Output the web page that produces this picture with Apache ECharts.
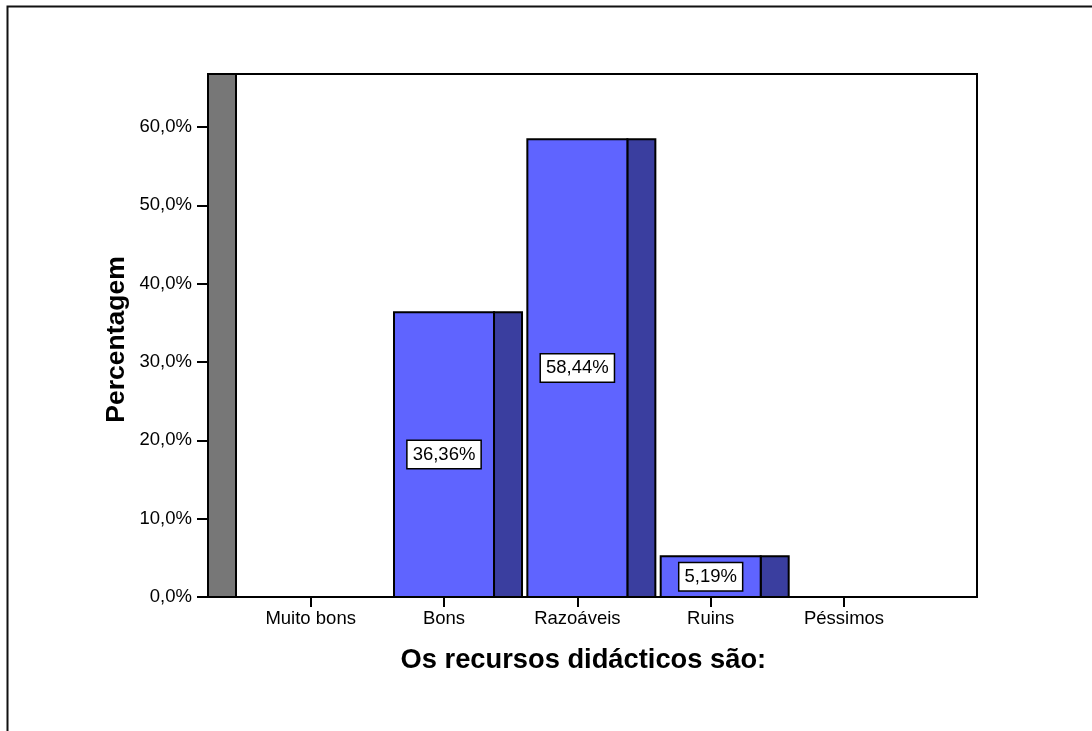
<!DOCTYPE html>
<html>
<head>
<meta charset="utf-8">
<script src="https://cdn.jsdelivr.net/npm/echarts@6/dist/echarts.min.js"></script>
<style>
  html, body { margin: 0; padding: 0; background: #fff; }
  #chart { width: 1092px; height: 731px; }
</style>
</head>
<body>
<div id="chart"></div>
<script>
// Categories and percentages of answers
const categories = ['Muito bons', 'Bons', 'Razoáveis', 'Ruins', 'Péssimos'];
const percentages = [0, 36.36, 58.44, 5.19, 0];
const yTicks = [0, 10, 20, 30, 40, 50, 60];
const yMax = 66.77;

const FONT = "'Liberation Sans', Arial, sans-serif";
const DEPTH = 28;          // width of the shaded side face (px)
const FRONT = '#5f64ff';
const SIDE = '#3a3e9f';
const WALL = '#777777';

const fmtPct = v => v.toFixed(2).replace('.', ',') + '%';
const fmtTick = v => v.toFixed(1).replace('.', ',') + '%';

const chart = echarts.init(document.getElementById('chart'), null, { renderer: 'canvas' });

const barData = categories.map((c, i) => [i, percentages[i]]).filter(d => d[1] > 0);

chart.setOption({
  backgroundColor: '#fff',
  animation: false,
  graphic: [{
    type: 'rect',
    shape: { x: 7.5, y: 6.5, width: 1200, height: 800 },
    style: { fill: 'none', stroke: '#111', lineWidth: 2 },
    silent: true
  }],
  grid: [
    { left: 208, top: 74, width: 769, height: 523, show: true, borderColor: '#000', borderWidth: 2, backgroundColor: 'transparent' },
    { left: 244, top: 74, width: 666.7, height: 523 }
  ],
  xAxis: [
    { type: 'value', gridIndex: 0, min: 0, max: 1, show: false },
    {
      type: 'category', gridIndex: 1, data: categories,
      axisLine: { show: false },
      axisTick: { show: true, alignWithLabel: true, length: 10, lineStyle: { color: '#000', width: 2 } },
      axisLabel: { color: '#000', fontFamily: FONT, fontSize: 18.5, margin: 12 },
      name: 'Os recursos didácticos são:',
      nameLocation: 'middle',
      nameGap: 50,
      nameMoveOverlap: false,
      nameTextStyle: { color: '#000', fontFamily: FONT, fontSize: 27.3, fontWeight: 'bold', padding: [0, 0, 0, 12] }
    }
  ],
  yAxis: [
    {
      type: 'value', gridIndex: 0, min: 0, max: yMax, interval: 10,
      splitLine: { show: false },
      axisLine: { show: false },
      axisTick: { show: true, length: 11, customValues: yTicks, lineStyle: { color: '#000', width: 2 } },
      axisLabel: { color: '#000', fontFamily: FONT, fontSize: 18.5, margin: 16, customValues: yTicks, formatter: fmtTick },
      name: 'Percentagem',
      nameLocation: 'middle',
      nameRotate: 90,
      nameGap: 78,
      nameMoveOverlap: false,
      nameTextStyle: { color: '#000', fontFamily: FONT, fontSize: 26.5, fontWeight: 'bold', align: 'center', verticalAlign: 'bottom', padding: [0, 8, 0, 0] }
    },
    { type: 'value', gridIndex: 1, min: 0, max: yMax, show: false }
  ],
  series: [
    {
      // back wall on the left of the plot
      type: 'custom', xAxisIndex: 0, yAxisIndex: 0,
      data: [[0, yMax]],
      renderItem: (params, api) => {
        const cs = params.coordSys;
        return {
          type: 'rect',
          shape: { x: cs.x, y: cs.y, width: DEPTH, height: cs.height },
          style: { fill: WALL, stroke: '#000', lineWidth: 2 }
        };
      }
    },
    {
      // 3D-look bars: front face plus shaded side face, value label in a box
      type: 'custom', xAxisIndex: 1, yAxisIndex: 1,
      data: barData,
      renderItem: (params, api) => {
        const idx = api.value(0), val = api.value(1);
        const top = api.coord([idx, val]);
        const base = api.coord([idx, 0]);
        const bw = api.size([1, 0])[0] * 0.75;
        const x0 = top[0] - bw / 2;
        const h = base[1] - top[1];
        return {
          type: 'group',
          children: [
            { type: 'rect', shape: { x: x0 + bw, y: top[1], width: DEPTH, height: h },
              style: { fill: SIDE, stroke: '#000', lineWidth: 2 } },
            { type: 'rect', shape: { x: x0, y: top[1], width: bw, height: h },
              style: { fill: FRONT, stroke: '#000', lineWidth: 2 } },
            { type: 'text', x: top[0], y: top[1] + h / 2,
              style: {
                text: fmtPct(val), fontFamily: FONT, fontSize: 18.5, fill: '#000',
                align: 'center', verticalAlign: 'middle',
                backgroundColor: '#fff', borderColor: '#000', borderWidth: 1.5,
                padding: [4, 5, 4, 5]
              } }
          ]
        };
      }
    }
  ]
});
</script>
</body>
</html>
